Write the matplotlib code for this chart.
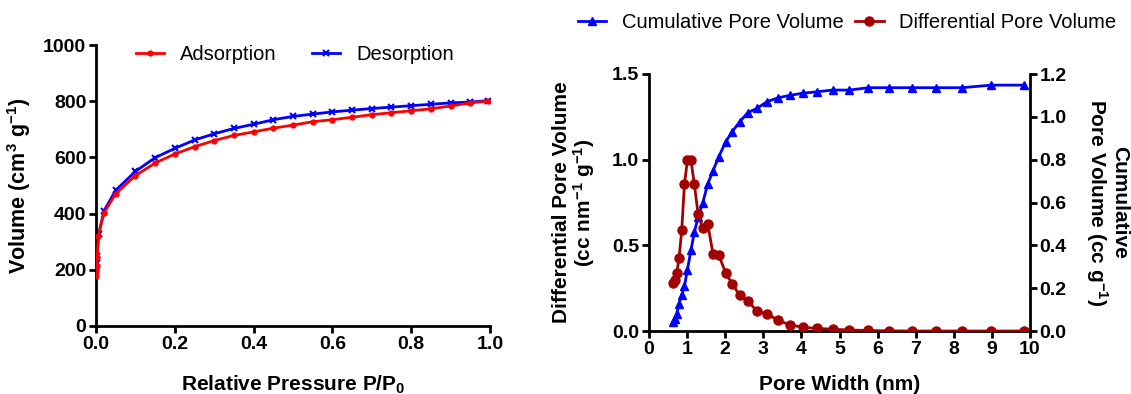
import numpy as np
import matplotlib
matplotlib.use("Agg")
import matplotlib.pyplot as plt

plt.rcParams['font.family'] = ['Liberation Sans', 'DejaVu Sans']
plt.rcParams['mathtext.default'] = 'regular'

# N2 isotherm
p_ads = [0.0005, 0.001, 0.002, 0.003, 0.006, 0.02, 0.05, 0.1, 0.15, 0.2, 0.25, 0.3, 0.35, 0.4, 0.45,
         0.5, 0.55, 0.6, 0.65, 0.7, 0.75, 0.8, 0.85, 0.9, 0.95, 0.995]
v_ads = [179, 200, 215, 245, 322, 402, 471, 535, 580, 612, 638, 660, 678, 691, 704,
         715, 727, 734, 743, 752, 759, 766, 773, 783, 794, 800]
p_des = [0.0005, 0.001, 0.002, 0.003, 0.007, 0.02, 0.05, 0.1, 0.15, 0.2, 0.25, 0.3, 0.35, 0.4, 0.45,
         0.5, 0.55, 0.6, 0.65, 0.7, 0.75, 0.8, 0.85, 0.9, 0.95, 0.995]
v_des = [197, 210, 225, 250, 328, 409, 483, 550, 599, 632, 662, 684, 703, 718, 734,
         746, 754, 762, 768, 774, 779, 784, 789, 794, 797, 802]

# pore size distribution
width = [0.62, 0.67, 0.73, 0.79, 0.86, 0.93, 1.01, 1.10, 1.19, 1.29, 1.41, 1.54, 1.68, 1.83, 2.01, 2.18,
         2.38, 2.59, 2.84, 3.10, 3.39, 3.69, 4.03, 4.41, 4.82, 5.26, 5.76, 6.30, 6.89, 7.53, 8.22, 8.98, 9.85]
diff_pv = [0.28, 0.296, 0.34, 0.426, 0.59, 0.856, 1.0, 1.0, 0.856, 0.68, 0.60, 0.627, 0.45, 0.444, 0.34, 0.277,
           0.208, 0.175, 0.115, 0.10, 0.062, 0.037, 0.021, 0.016, 0.01, 0.006, 0.003, 0.001, 0.0, 0.0, 0.0, 0.0, 0.0]
cum_pv = [0.042, 0.058, 0.081, 0.128, 0.17, 0.209, 0.287, 0.377, 0.46, 0.533, 0.598, 0.686, 0.748, 0.813, 0.882, 0.93,
          0.977, 1.019, 1.04, 1.071, 1.089, 1.10, 1.11, 1.117, 1.125, 1.125, 1.136, 1.136, 1.136, 1.136, 1.136, 1.148, 1.148]

W, H = 1131, 394
fig = plt.figure(figsize=(W / 100, H / 100), dpi=100)

def style(ax, spines):
    for s in ['left', 'right', 'top', 'bottom']:
        ax.spines[s].set_visible(s in spines)
        ax.spines[s].set_linewidth(2)
    ax.tick_params(width=2, length=5, labelsize=14, pad=2)
    for lab in ax.get_xticklabels() + ax.get_yticklabels():
        lab.set_fontweight('bold')

# left: isotherm
ax1 = fig.add_axes([96 / W, 1 - 326 / H, (490 - 96) / W, (326 - 45) / H])
ax1.plot(p_ads, v_ads, color='#ff0000', lw=2, marker='o', ms=3.5, label='Adsorption', zorder=3)
ax1.plot(p_des, v_des, color='#0000ff', lw=2, marker='x', ms=4, mew=1.5, label='Desorption', zorder=2)
ax1.set_xlim(0, 1)
ax1.set_ylim(0, 1000)
ax1.set_xticks(np.arange(0, 1.01, 0.2))
ax1.set_xticklabels([f'{v:.1f}' for v in np.arange(0, 1.01, 0.2)])
ax1.set_yticks(range(0, 1001, 200))
style(ax1, ['left', 'bottom'])
ax1.set_xlabel('Relative Pressure P/P$_0$', fontsize=15, fontweight='bold')
ax1.set_ylabel('Volume (cm$^3$ g$^{-1}$)', fontsize=15.5, fontweight='bold')
ax1.xaxis.set_label_coords(0.5, -0.17)
ax1.yaxis.set_label_coords(-0.16, 0.5)
ax1.legend(loc='center', bbox_to_anchor=(0.505, 0.965), ncol=2, frameon=False, fontsize=14.5,
           handlelength=1.4, columnspacing=1.75, handletextpad=0.8)

# right: pore size distribution
ax2 = fig.add_axes([649 / W, 1 - 331 / H, (1030 - 649) / W, (331 - 74) / H])
ax3 = ax2.twinx()
l2, = ax2.plot(width, diff_pv, color='#a30000', lw=2, marker='o', ms=6.5, label='Differential Pore Volume', zorder=3)
l3, = ax3.plot(width, cum_pv, color='#0000ff', lw=2, marker='^', ms=5.5, label='Cumulative Pore Volume', zorder=2)
ax2.set_xlim(0, 10)
ax2.set_ylim(0, 1.5)
ax3.set_ylim(0, 1.2)
ax2.set_xticks(range(0, 11))
ax2.set_yticks([0, 0.5, 1.0, 1.5])
ax2.set_yticklabels(['0.0', '0.5', '1.0', '1.5'])
ax3.set_yticks(np.arange(0, 1.21, 0.2))
ax3.set_yticklabels([f'{v:.1f}' for v in np.arange(0, 1.21, 0.2)])
style(ax2, ['left', 'bottom'])
style(ax3, ['right'])
ax2.set_xlabel('Pore Width (nm)', fontsize=15, fontweight='bold')
ax2.set_ylabel('Differential Pore Volume\n(cc nm$^{-1}$ g$^{-1}$)', fontsize=15, fontweight='bold',
               linespacing=1.0)
ax3.set_ylabel('Cumulative\nPore Volume (cc g$^{-1}$)', fontsize=15, fontweight='bold',
               rotation=270, linespacing=1.0, va='center', ha='center')
ax2.xaxis.set_label_coords(0.5, -0.17)
ax2.yaxis.set_label_coords(-0.136, 0.5)
ax3.yaxis.set_label_coords(1.2, 0.5)
ax3.set_zorder(ax2.get_zorder() - 1)
ax2.patch.set_visible(False)

fig.legend([l3, l2], ['Cumulative Pore Volume', 'Differential Pore Volume'], loc='center',
           bbox_to_anchor=(847 / W, 1 - 23 / H), ncol=2, frameon=False, fontsize=14.5,
           handlelength=1.4, columnspacing=0.6, handletextpad=0.75)

fig.savefig('out.png', dpi=100)
